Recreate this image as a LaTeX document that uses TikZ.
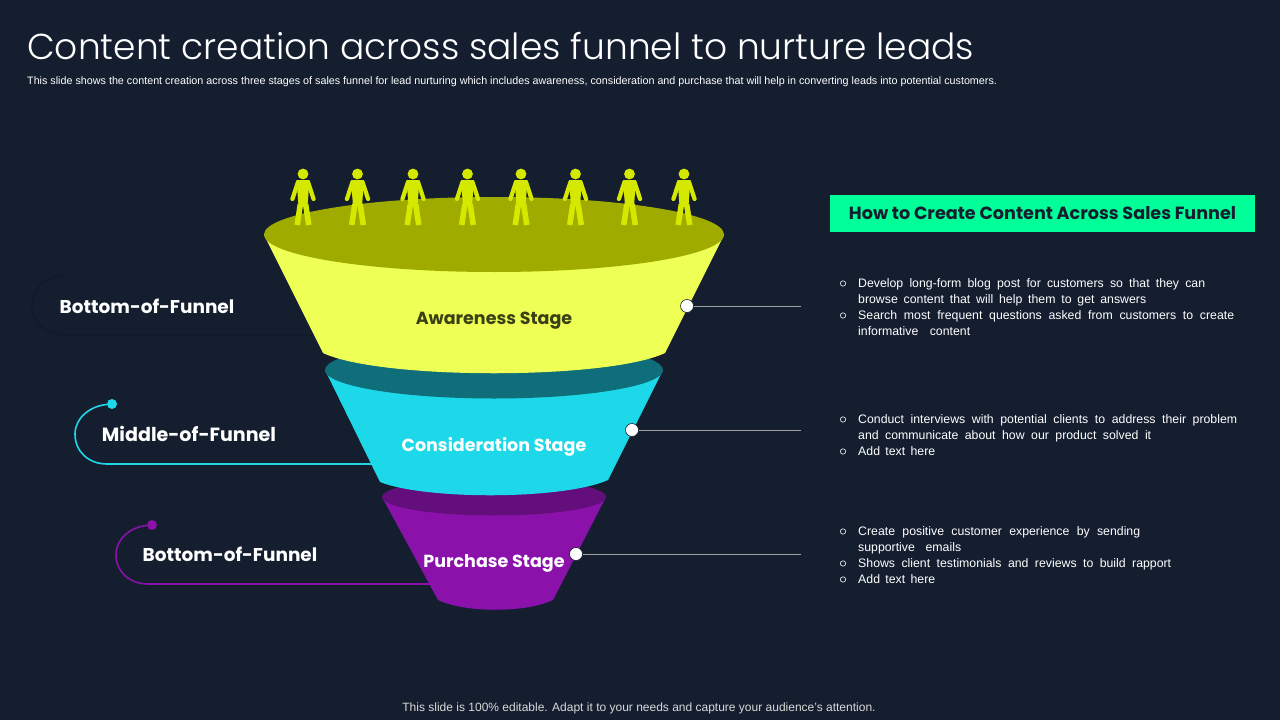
\documentclass[tikz,border=0pt]{standalone}
\usepackage{fontspec}
\setmainfont{Liberation Sans}
\newfontfamily\headfont{Poppins}
\newfontfamily\titlefont{Poppins Light}
\usetikzlibrary{calc}
\definecolor{slidebg}{HTML}{141E2F}
\definecolor{awareface}{HTML}{EEFF55}
\definecolor{awaretop}{HTML}{A0AB00}
\definecolor{considerface}{HTML}{1CD8E8}
\definecolor{considertop}{HTML}{0F6E7A}
\definecolor{purchaseface}{HTML}{8A12AA}
\definecolor{purchasetop}{HTML}{640E7C}
\definecolor{personcol}{HTML}{D4E800}
\definecolor{mintcol}{HTML}{00FF99}
\definecolor{fadedcurve}{HTML}{111A29}
\tikzset{
	stagelabel/.style={font=\headfont\bfseries\fontsize{17.5}{22}\selectfont},
	sidelabel/.style={font=\headfont\bfseries\fontsize{18.5}{24}\selectfont, text=white},
	enddot/.style={circle, draw=slidebg, line width=0.6pt, fill=white, minimum size=13pt, inner sep=0pt},
	leader/.style={draw=black!5!gray!70!white, line width=0.7pt},
	textline/.style={anchor=base west, inner sep=0pt, text=white, font=\fontsize{12.3}{14}\selectfont},
	bulletmark/.style={circle, draw=white, line width=0.6pt, minimum size=5.4pt, inner sep=0pt},
}
% one person above the funnel
\def\person(#1){
	\fill[personcol] (#1, 174) circle (5.4);
	\fill[personcol] ($(#1, 180)+(-6.5, 0)$) -- ++(13, 0) -- ++(-2, 26) -- ++(-9, 0) -- cycle;
	\draw[personcol, line width=4.2pt, line cap=round] (#1-5, 182) -- (#1-10.6, 199);
	\draw[personcol, line width=4.2pt, line cap=round] (#1+5, 182) -- (#1+10.6, 199);
	\draw[personcol, line width=5.6pt] (#1-2.6, 204) -- (#1-5.8, 225);
	\draw[personcol, line width=5.6pt] (#1+2.6, 204) -- (#1+5.8, 225);
}
% stretched line of body text
\def\bodyline(#1)[#2]#3{\node[textline] at (858, #1) {\makebox[#2pt][s]{#3}};}
\begin{document}
\begin{tikzpicture}[x=1pt, y=-1pt]
		%%%%% START %%%%%
		\fill[slidebg] (0, 0) rectangle (1280, 720);
		\useasboundingbox (0, 0) rectangle (1280, 720);
		
		\node[anchor=base west, inner sep=0pt, text=white, font=\titlefont\fontsize{36}{40}\selectfont] (title) at (27, 59) {Content creation across sales funnel to nurture leads};
		\node[anchor=base west, inner sep=0pt, text=white, font=\fontsize{10.75}{12}\selectfont] (subtitle) at (27, 84) {This slide shows the content creation across three stages of sales funnel for lead nurturing which includes awareness, consideration and purchase that will help in converting leads into potential customers.};
		
		% side curves
		\coordinate (fadedstart) at (66, 275);
		\coordinate (fadedend) at (325, 335);
		\draw[fadedcurve, line width=1.6pt] (fadedstart) .. controls (44, 275) and (32, 290) .. (32, 305) .. controls (32, 322) and (46, 335) .. (66, 335) -- (fadedend);
		
		\node[circle, fill=considerface, minimum size=10pt, inner sep=0pt] (middot) at (112, 404) {};
		\coordinate (midend) at (378, 464);
		\draw[considerface, line width=1.6pt] (middot) .. controls (90, 406) and (75, 418) .. (75, 434) .. controls (75, 452) and (89, 464) .. (107, 464) -- (midend);
		
		\node[circle, fill=purchaseface, minimum size=10pt, inner sep=0pt] (botdot) at (152, 525) {};
		\coordinate (botend) at (434, 584);
		\draw[purchaseface, line width=1.6pt] (botdot) .. controls (131, 527) and (116, 538) .. (116, 555) .. controls (116, 572) and (130, 584) .. (148, 584) -- (botend);
		
		% funnel, bottom part first
		\fill[purchaseface] (382, 497) -- (438, 600) .. controls (465, 613) and (526, 613) .. (553, 600) -- (606, 497) -- cycle;
		\fill[purchasetop] (494, 497) ellipse (112 and 18.5);
		
		\fill[considerface] (325, 370) -- (380, 482) .. controls (425, 500) and (563, 500) .. (608, 480) -- (663, 370) -- cycle;
		\fill[considertop] (494, 370) ellipse (169 and 28.5);
		
		\fill[awareface] (264, 235) -- (323, 353) .. controls (380, 380) and (608, 380) .. (665, 353) -- (724, 235) -- cycle;
		\fill[awaretop] (494, 234.5) ellipse (230 and 37.5);
		
		\person(303)
		\person(357.5)
		\person(413)
		\person(467.5)
		\person(521)
		\person(575.5)
		\person(629.5)
		\person(684)
		
		\node[stagelabel, text=black!75!awareface] (aware) at (494, 321) {Awareness Stage};
		\node[stagelabel, text=white] (consider) at (494, 447) {Consideration Stage};
		\node[stagelabel, text=white] (purchase) at (494, 563) {Purchase Stage};
		
		\node[sidelabel] (toplabel) at (147, 306) {Bottom-of-Funnel};
		\node[sidelabel, font=\headfont\bfseries\fontsize{19.1}{24}\selectfont] (midlabel) at (189, 434) {Middle-of-Funnel};
		\node[sidelabel] (botlabel) at (230, 554) {Bottom-of-Funnel};
		
		% leaders to the text
		\node[enddot] (awaredot) at (687, 306) {};
		\node[enddot] (considerdot) at (632, 430) {};
		\node[enddot] (purchasedot) at (576, 554) {};
		\coordinate (awareend) at (801, 306);
		\coordinate (considerend) at (801, 430);
		\coordinate (purchaseend) at (801, 554);
		\draw[leader] (awaredot) -- (awareend);
		\draw[leader] (considerdot) -- (considerend);
		\draw[leader] (purchasedot) -- (purchaseend);
		
		% right column
		\node[fill=mintcol, minimum width=425pt, minimum height=37pt, inner sep=0pt, text=slidebg, font=\headfont\bfseries\fontsize{17.6}{20}\selectfont] (howto) at (1042.5, 213.5) {How to Create Content Across Sales Funnel};
		
		\node[bulletmark] (b1) at (843, 283.5) {};
		\bodyline(287)[347]{Develop long-form blog post for customers so that they can}
		\bodyline(303)[288]{browse content that will help them to get answers}
		\node[bulletmark] (b2) at (843, 315.5) {};
		\bodyline(319)[376]{Search most frequent questions asked from customers to create}
		\bodyline(335)[112]{informative content}
		
		\node[bulletmark] (b3) at (843, 419.5) {};
		\bodyline(423)[379]{Conduct interviews with potential clients to address their problem}
		\bodyline(439)[293]{and communicate about how our product solved it}
		\node[bulletmark] (b4) at (843, 451.5) {};
		\bodyline(455)[77]{Add text here}
		
		\node[bulletmark] (b5) at (843, 531.5) {};
		\bodyline(535)[282]{Create positive customer experience by sending}
		\bodyline(551)[103]{supportive emails}
		\node[bulletmark] (b6) at (843, 563.5) {};
		\bodyline(567)[313]{Shows client testimonials and reviews to build rapport}
		\node[bulletmark] (b7) at (843, 579.5) {};
		\bodyline(583)[77]{Add text here}
		
		\node[text=black!15!white, inner sep=0pt, font=\fontsize{12}{14}\selectfont] (footnote) at (639, 708.5) {This slide is 100\% editable. Adapt it to your needs and capture your audience's attention.};
		%%%%% END %%%%%
	\end{tikzpicture}
\end{document}
